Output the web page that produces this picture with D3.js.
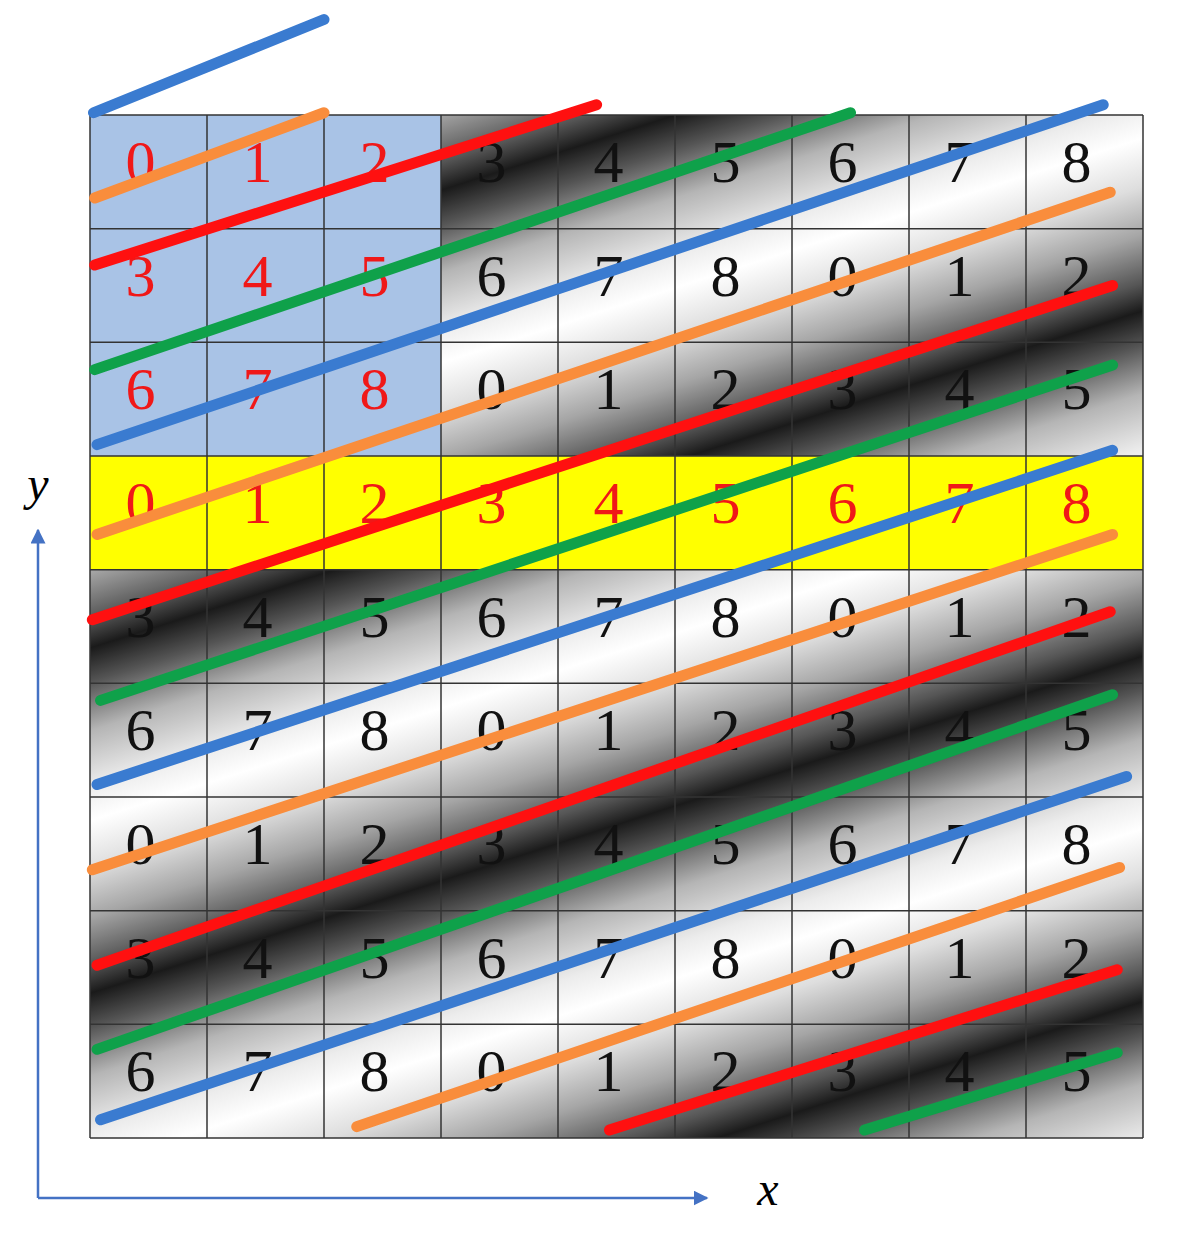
<!DOCTYPE html>
<html>
<head>
<meta charset="utf-8">
<script src="https://cdn.jsdelivr.net/npm/d3@7"></script>
<style>
  body { margin: 0; background: #fff; }
</style>
</head>
<body>
<div id="chart"></div>
<script>
// digit rows of the 9x9 grid
const gridRows = [
    [0, 1, 2, 3, 4, 5, 6, 7, 8],
    [3, 4, 5, 6, 7, 8, 0, 1, 2],
    [6, 7, 8, 0, 1, 2, 3, 4, 5],
    [0, 1, 2, 3, 4, 5, 6, 7, 8],
    [3, 4, 5, 6, 7, 8, 0, 1, 2],
    [6, 7, 8, 0, 1, 2, 3, 4, 5],
    [0, 1, 2, 3, 4, 5, 6, 7, 8],
    [3, 4, 5, 6, 7, 8, 0, 1, 2],
    [6, 7, 8, 0, 1, 2, 3, 4, 5]
];
const highlightRow = 3;
const blockSize = 3;

// sloped lines, in grid units [x1, y1, x2, y2]
const lineColors = ["blue", "orange", "red", "green", "blue", "orange", "red", "green",
                    "blue", "orange", "red", "green", "blue", "orange", "red", "green"];
const lineEnds = [
    [0.03, -0.02, 2.0, -0.84],
    [0.04, 0.73, 2.0, -0.02],
    [0.04, 1.32, 4.33, -0.09],
    [0.04, 2.24, 6.5, -0.02],
    [0.06, 2.9, 8.66, -0.09],
    [0.06, 3.69, 8.72, 0.68],
    [0.02, 4.44, 8.74, 1.5],
    [0.09, 5.15, 8.74, 2.2],
    [0.06, 5.89, 8.74, 2.95],
    [0.02, 6.64, 8.74, 3.69],
    [0.06, 7.48, 8.72, 4.37],
    [0.06, 8.22, 8.74, 5.1],
    [0.09, 8.84, 8.86, 5.82],
    [2.28, 8.9, 8.8, 6.62],
    [4.44, 8.93, 8.78, 7.52],
    [6.62, 8.93, 8.78, 8.25]
];

const colors = { blue: "#3a7bd0", orange: "#f98d3c", red: "#ff1010", green: "#0fa14a" };
const serif = "'Liberation Serif', 'DejaVu Serif', serif";

const width = 1179, height = 1233;
const svg = d3.select("#chart").append("svg")
    .attr("width", width).attr("height", height);

const x = d3.scaleLinear().domain([0, 9]).range([90, 1143]);
const y = d3.scaleLinear().domain([0, 9]).range([115, 1138]);
const cw = x(1) - x(0), ch = y(1) - y(0);

// diagonal shading, repeating along the normal to the red lines
const defs = svg.append("defs");
const p0 = [x(0.02), y(4.44)];
const period = 329, n = [0.305, 0.952];
const grad = defs.append("linearGradient")
    .attr("id", "shade")
    .attr("gradientUnits", "userSpaceOnUse")
    .attr("spreadMethod", "repeat")
    .attr("x1", p0[0]).attr("y1", p0[1])
    .attr("x2", p0[0] + period * n[0]).attr("y2", p0[1] + period * n[1]);
[[0, "#555"], [0.08, "#1a1a1a"], [0.18, "#555"], [0.32, "#b5b5b5"], [0.48, "#ececec"],
 [0.58, "#ffffff"], [0.72, "#dedede"], [0.86, "#a5a5a5"], [1, "#555"]]
    .forEach(([o, c]) => grad.append("stop").attr("offset", o).attr("stop-color", c));

svg.append("rect")
    .attr("x", x(0)).attr("y", y(0))
    .attr("width", x(9) - x(0)).attr("height", y(9) - y(0))
    .attr("fill", "url(#shade)");

// blue block and yellow row
svg.append("rect")
    .attr("x", x(0)).attr("y", y(0))
    .attr("width", x(blockSize) - x(0)).attr("height", y(blockSize) - y(0))
    .attr("fill", "#a9c3e6");
svg.append("rect")
    .attr("x", x(0)).attr("y", y(highlightRow))
    .attr("width", x(9) - x(0)).attr("height", ch)
    .attr("fill", "#ffff00");

// grid lines
const g = svg.append("g").attr("stroke", "#333").attr("stroke-width", 1.5);
d3.range(10).forEach(i => {
    g.append("line").attr("x1", x(i)).attr("x2", x(i)).attr("y1", y(0)).attr("y2", y(9));
    g.append("line").attr("y1", y(i)).attr("y2", y(i)).attr("x1", x(0)).attr("x2", x(9));
});

// digits
gridRows.forEach((row, r) => {
    svg.append("g").selectAll("text")
        .data(row)
        .enter().append("text")
        .attr("x", (d, c) => x(c) + cw / 2 - 8)
        .attr("y", y(r) + ch / 2 + 10)
        .attr("text-anchor", "middle")
        .attr("font-family", serif)
        .attr("font-size", 60)
        .attr("fill", (d, c) => (r === highlightRow || (r < blockSize && c < blockSize)) ? "#f01818" : "#111")
        .text(d => d);
});

// sloped lines
svg.append("g").selectAll("line")
    .data(lineEnds)
    .enter().append("line")
    .attr("x1", d => x(d[0])).attr("y1", d => y(d[1]))
    .attr("x2", d => x(d[2])).attr("y2", d => y(d[3]))
    .attr("stroke", (d, i) => colors[lineColors[i]])
    .attr("stroke-width", 11)
    .attr("stroke-linecap", "round");

// axes arrows
const axisColor = "#4472c4";
defs.append("marker")
    .attr("id", "arrow").attr("viewBox", "0 0 10 10")
    .attr("refX", 9).attr("refY", 5)
    .attr("markerWidth", 6).attr("markerHeight", 6)
    .attr("orient", "auto")
    .append("path").attr("d", "M0,0 L10,5 L0,10 Z").attr("fill", axisColor);

const origin = [38, 1198];
svg.append("line")
    .attr("x1", origin[0]).attr("y1", origin[1]).attr("x2", origin[0]).attr("y2", 530)
    .attr("stroke", axisColor).attr("stroke-width", 2.5).attr("marker-end", "url(#arrow)");
svg.append("line")
    .attr("x1", origin[0]).attr("y1", origin[1]).attr("x2", 707).attr("y2", origin[1])
    .attr("stroke", axisColor).attr("stroke-width", 2.5).attr("marker-end", "url(#arrow)");

svg.append("text").attr("x", 38).attr("y", 500)
    .attr("text-anchor", "middle")
    .attr("font-family", serif).attr("font-style", "italic")
    .attr("font-size", 48).text("y");
svg.append("text").attr("x", 768).attr("y", 1205)
    .attr("text-anchor", "middle")
    .attr("font-family", serif).attr("font-style", "italic")
    .attr("font-size", 48).text("x");
</script>
</body>
</html>
